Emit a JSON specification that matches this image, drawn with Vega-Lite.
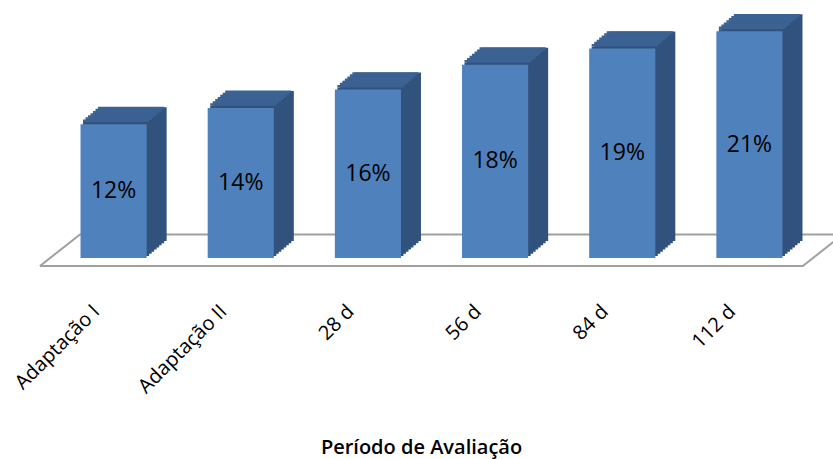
{
  "$schema": "https://vega.github.io/schema/vega-lite/v6.json",
  "autosize": "none",
  "width": 763,
  "height": 258,
  "padding": {"left": 50, "top": 0, "right": 20, "bottom": 201},
  "background": "white",
  "config": {"view": {"stroke": null}},
  "datasets": {
    "bars": [
      {"periodo": "Adaptação I", "valor": 0.124},
      {"periodo": "Adaptação II", "valor": 0.139},
      {"periodo": "28 d", "valor": 0.156},
      {"periodo": "56 d", "valor": 0.179},
      {"periodo": "84 d", "valor": 0.194},
      {"periodo": "112 d", "valor": 0.210}
    ],
    "piso": [
      {"pos": -0.579, "nivel": -0.0074, "ordem": 1},
      {"pos": 5.42, "nivel": -0.0074, "ordem": 2},
      {"pos": 5.735, "nivel": 0.0218, "ordem": 3},
      {"pos": -0.264, "nivel": 0.0218, "ordem": 4},
      {"pos": -0.579, "nivel": -0.0074, "ordem": 5}
    ]
  },
  "layer": [
    {
      "data": {"name": "piso"},
      "mark": {"type": "line", "stroke": "#a0a0a0", "strokeWidth": 2},
      "encoding": {
        "x": {"field": "pos", "type": "quantitative", "scale": {"domain": [-0.5, 5.5], "nice": false, "zero": false}, "axis": null},
        "y": {"field": "nivel", "type": "quantitative", "scale": {"domain": [0, 0.239], "nice": false, "zero": false}, "axis": null},
        "order": {"field": "ordem"}
      }
    },
    {
      "data": {"name": "bars"},
      "encoding": {
        "x": {
          "field": "periodo", "type": "nominal", "sort": null,
          "scale": {"paddingInner": 0, "paddingOuter": 0},
          "axis": {
            "domain": false, "ticks": false, "labelAngle": -45, "labelAlign": "right", "labelBaseline": "middle",
            "labelPadding": 50, "labelOffset": -17, "labelFont": "Open Sans", "labelFontSize": 20, "labelColor": "#000000",
            "title": "Período de Avaliação", "titleFont": "Open Sans", "titleFontSize": 20, "titleFontWeight": 600,
            "titleColor": "#000000", "titleX": 371, "titleY": 195, "titleBaseline": "alphabetic", "titleAlign": "center"
          }
        },
        "y": {"field": "valor", "type": "quantitative", "scale": {"domain": [0, 0.239], "nice": false}, "axis": null}
      },
      "layer": [
        {"mark": {"type": "bar", "width": {"band": 0.52}, "fill": "#31527c", "xOffset": 2.5, "x2Offset": 2.5, "yOffset": -2.125, "y2Offset": -2.125}},
        {"mark": {"type": "bar", "width": {"band": 0.52}, "fill": "#31527c", "xOffset": 5, "x2Offset": 5, "yOffset": -4.25, "y2Offset": -4.25}},
        {"mark": {"type": "bar", "width": {"band": 0.52}, "fill": "#31527c", "xOffset": 7.5, "x2Offset": 7.5, "yOffset": -6.375, "y2Offset": -6.375}},
        {"mark": {"type": "bar", "width": {"band": 0.52}, "fill": "#31527c", "xOffset": 10, "x2Offset": 10, "yOffset": -8.5, "y2Offset": -8.5}},
        {"mark": {"type": "bar", "width": {"band": 0.52}, "fill": "#31527c", "xOffset": 12.5, "x2Offset": 12.5, "yOffset": -10.625, "y2Offset": -10.625}},
        {"mark": {"type": "bar", "width": {"band": 0.52}, "fill": "#31527c", "xOffset": 15, "x2Offset": 15, "yOffset": -12.75, "y2Offset": -12.75}},
        {"mark": {"type": "bar", "width": {"band": 0.52}, "fill": "#31527c", "xOffset": 17.5, "x2Offset": 17.5, "yOffset": -14.875, "y2Offset": -14.875}},
        {"mark": {"type": "bar", "width": {"band": 0.52}, "fill": "#31527c", "xOffset": 20, "x2Offset": 20, "yOffset": -17, "y2Offset": -17}},
        {"mark": {"type": "bar", "width": {"band": 0.52}, "fill": "#3b6292", "xOffset": 2.5, "x2Offset": 2.5, "yOffset": -4.7, "y2Offset": -2.125}, "encoding": {"y2": {"field": "valor"}}},
        {"mark": {"type": "bar", "width": {"band": 0.52}, "fill": "#3b6292", "xOffset": 5, "x2Offset": 5, "yOffset": -6.8, "y2Offset": -4.25}, "encoding": {"y2": {"field": "valor"}}},
        {"mark": {"type": "bar", "width": {"band": 0.52}, "fill": "#3b6292", "xOffset": 7.5, "x2Offset": 7.5, "yOffset": -8.9, "y2Offset": -6.375}, "encoding": {"y2": {"field": "valor"}}},
        {"mark": {"type": "bar", "width": {"band": 0.52}, "fill": "#3b6292", "xOffset": 10, "x2Offset": 10, "yOffset": -11, "y2Offset": -8.5}, "encoding": {"y2": {"field": "valor"}}},
        {"mark": {"type": "bar", "width": {"band": 0.52}, "fill": "#3b6292", "xOffset": 12.5, "x2Offset": 12.5, "yOffset": -13.2, "y2Offset": -10.625}, "encoding": {"y2": {"field": "valor"}}},
        {"mark": {"type": "bar", "width": {"band": 0.52}, "fill": "#3b6292", "xOffset": 15, "x2Offset": 15, "yOffset": -15.3, "y2Offset": -12.75}, "encoding": {"y2": {"field": "valor"}}},
        {"mark": {"type": "bar", "width": {"band": 0.52}, "fill": "#3b6292", "xOffset": 17.5, "x2Offset": 17.5, "yOffset": -17.4, "y2Offset": -14.875}, "encoding": {"y2": {"field": "valor"}}},
        {"mark": {"type": "bar", "width": {"band": 0.52}, "fill": "#3b6292", "xOffset": 20, "x2Offset": 20, "yOffset": -17, "y2Offset": -17}, "encoding": {"y2": {"field": "valor"}}},
        {"mark": {"type": "bar", "width": {"band": 0.52}, "fill": "#4f81bd"}}
      ]
    },
    {
      "data": {"name": "bars"},
      "mark": {"type": "text", "font": "Open Sans", "fontSize": 23, "color": "#000000", "baseline": "middle", "align": "center"},
      "encoding": {
        "x": {"field": "periodo", "type": "nominal", "sort": null, "scale": {"paddingInner": 0, "paddingOuter": 0}, "axis": null},
        "y": {"field": "valor", "type": "quantitative", "scale": {"domain": [0, 0.478], "nice": false}, "axis": null},
        "text": {"field": "valor", "type": "quantitative", "format": ".0%"}
      }
    }
  ],
  "resolve": {"scale": {"x": "independent", "y": "independent"}, "axis": {"x": "independent", "y": "independent"}}
}
